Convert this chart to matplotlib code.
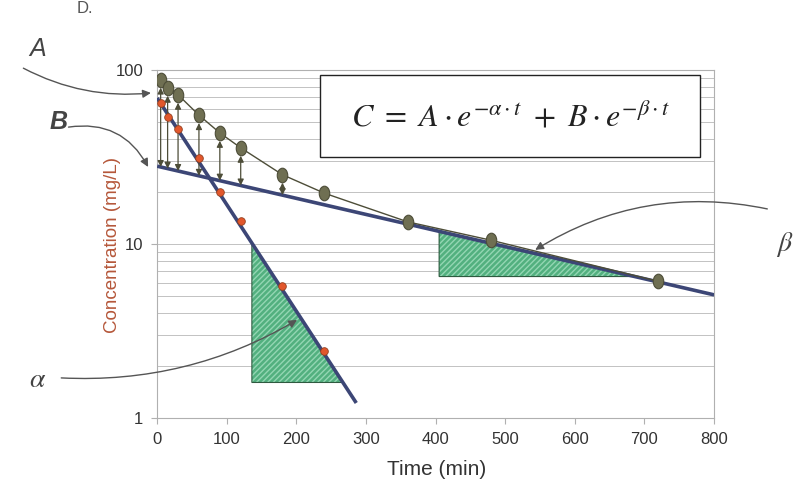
import numpy as np
import matplotlib
matplotlib.use("Agg")
import matplotlib.pyplot as plt
from matplotlib.markers import MarkerStyle
from matplotlib.transforms import Affine2D
from matplotlib.patches import Polygon, Rectangle

# Observed plasma concentrations (mg/L) vs time (min)
time_obs = [5, 15, 30, 60, 90, 120, 180, 240, 360, 480, 720]
conc_obs = [88, 79, 72, 55, 43.5, 35.7, 25, 19.6, 13.4, 10.5, 6.1]

# Residuals: observed minus the extrapolated terminal phase
time_res = [5, 15, 30, 60, 90, 120, 180, 240]
conc_res = [64.6, 53.7, 45.8, 31.2, 19.9, 13.6, 5.74, 2.43]

# End points of the two straight lines (log scale)
alpha_line_t = [0, 286]
alpha_line_c = [69, 1.22]
beta_line_t = [0, 800]
beta_line_c = [28, 5.1]

# Times at which the distribution-phase gap is marked
arrow_times = [5, 15, 30, 60, 90, 120, 180]

# Slope triangles: left edge time and floor concentration
alpha_tri_t, alpha_tri_floor = 136, 1.6
beta_tri_t, beta_tri_floor = 405, 6.5

x_ticks = [0, 100, 200, 300, 400, 500, 600, 700, 800]
y_ticks = [1, 10, 100]
y_tick_labels = ["1", "10", "100"]

plt.rcParams["font.family"] = ["Liberation Sans", "DejaVu Sans"]
plt.rcParams["mathtext.fontset"] = "stix"


def on_line(t, lt, lc):
    return 10 ** np.interp(t, lt, np.log10(lc))


def time_at(c, lt, lc):
    lg = np.log10(lc)
    return np.interp(np.log10(c), lg[::-1], np.asarray(lt)[::-1])


fig = plt.figure(figsize=(8.06, 4.87), dpi=100)
ax = fig.add_axes([0.195, 0.1417, 0.691, 0.7146])
ax.set_yscale("log")
ax.set_xlim(0, 800)
ax.set_ylim(1, 100)

grid_c = "#c2c2c2"
ax.yaxis.grid(True, which="both", color=grid_c, lw=0.7)
ax.set_axisbelow(True)
for s in ax.spines.values():
    s.set_color("#b0b0b0")
    s.set_linewidth(0.8)

ax.set_xticks(x_ticks)
ax.set_xticklabels([str(v) for v in x_ticks])
ax.set_yticks(y_ticks)
ax.set_yticklabels(y_tick_labels)
ax.tick_params(axis="both", which="major", length=4, color="#b0b0b0",
               labelsize=12, labelcolor="#333333", pad=6)
ax.tick_params(axis="y", which="minor", length=0)
ax.yaxis.set_minor_formatter(matplotlib.ticker.NullFormatter())

line_c = "#3c4676"
olive = "#6f6f52"
olive_dark = "#4d4d38"


def triangle(lt, lc, t_left, floor, z):
    top = on_line(t_left, lt, lc)
    t_right = time_at(floor, lt, lc)
    pts = [(t_left, top), (t_left, floor), (t_right, floor)]
    ax.add_patch(Polygon(pts, closed=True, facecolor="#52b07f",
                         edgecolor="none", zorder=z))
    ax.add_patch(Polygon(pts, closed=True, facecolor="none", hatch="//////",
                         edgecolor="#93d6b3", lw=0, zorder=z))
    ax.add_patch(Polygon(pts, closed=True, facecolor="none",
                         edgecolor="#2f5a40", lw=0.8, zorder=z))


# slope triangles
triangle(alpha_line_t, alpha_line_c, alpha_tri_t, alpha_tri_floor, 2)
triangle(beta_line_t, beta_line_c, beta_tri_t, beta_tri_floor, 2)

# fitted lines
ax.plot(alpha_line_t, alpha_line_c, color=line_c, lw=2.6, zorder=3,
        solid_capstyle="butt")
ax.plot(beta_line_t, beta_line_c, color=line_c, lw=2.6, zorder=3,
        solid_capstyle="butt")

# gap arrows between observed points and terminal line
obs_lookup = dict(zip(time_obs, conc_obs))
for t in arrow_times:
    ax.annotate("", xy=(t, obs_lookup[t] * 0.9),
                xytext=(t, on_line(t, beta_line_t, beta_line_c)),
                arrowprops=dict(arrowstyle="<|-|>", color=olive_dark, lw=0.9,
                                mutation_scale=9, shrinkA=0, shrinkB=0),
                zorder=4)

# observed curve
tear = MarkerStyle("o", transform=Affine2D().scale(0.72, 1.0))
ax.plot(time_obs, conc_obs, color=olive_dark, lw=1.0, zorder=5)
ax.plot(time_obs, conc_obs, ls="none", marker=tear, ms=10.5,
        mfc=olive, mec=olive_dark, mew=0.8, zorder=6)

# residual points
ax.plot(time_res, conc_res, ls="none", marker="o", ms=5.5,
        mfc="#e2572c", mec="#93401f", mew=0.6, zorder=7)

# equation box
ax.add_patch(Rectangle((0.293, 0.75), 0.682, 0.236, transform=ax.transAxes,
                       facecolor="white", edgecolor="#222222", lw=1.0,
                       zorder=8))
ax.text(0.634, 0.862,
        r"$C\ =\ A\cdot e^{-\alpha\cdot t}\ +\ B\cdot e^{-\beta\cdot t}$",
        transform=ax.transAxes, ha="center", va="center", fontsize=23,
        color="#222222", zorder=9)

# axis labels
fig.text(0.542, 0.035, "Time (min)", ha="center", va="center",
         fontsize=15, color="#333333")
fig.text(0.14, 0.497, "Concentration (mg/L)", rotation=90, ha="center",
         va="center", fontsize=13.5, color="#b5573a")

# parameter labels with pointer arrows
arrow_kw = dict(arrowstyle="-|>", color="#555555", lw=1.0, mutation_scale=12,
                shrinkA=0, shrinkB=0)
fig.text(0.047, 0.9, "A", fontsize=18, style="italic", ha="center",
         va="center", color="#444444")
ax.annotate("", xy=(-9, 73.8), xytext=(0.029, 0.86),
            textcoords="figure fraction", annotation_clip=False,
            arrowprops=dict(connectionstyle="arc3,rad=0.15", **arrow_kw))
fig.text(0.073, 0.749, "B", fontsize=18, style="italic", weight="bold",
         ha="center", va="center", color="#444444")
ax.annotate("", xy=(-13, 27.7), xytext=(0.085, 0.739),
            textcoords="figure fraction", annotation_clip=False,
            arrowprops=dict(connectionstyle="arc3,rad=-0.35", **arrow_kw))
fig.text(0.047, 0.22, r"$\alpha$", fontsize=20, ha="center", va="center",
         color="#444444")
ax.annotate("", xy=(201, 3.66), xytext=(0.076, 0.224),
            textcoords="figure fraction", annotation_clip=False,
            arrowprops=dict(connectionstyle="arc3,rad=0.15", **arrow_kw),
            zorder=9)
fig.text(0.974, 0.497, r"$\beta$", fontsize=20, ha="center", va="center",
         color="#444444")
ax.annotate("", xy=(543, 9.25), xytext=(0.952, 0.571),
            textcoords="figure fraction", annotation_clip=False,
            arrowprops=dict(connectionstyle="arc3,rad=0.2", **arrow_kw),
            zorder=9)

fig.text(0.105, 0.982, "D.", fontsize=12, ha="center", va="center",
         color="#555555")

fig.savefig("out.png", dpi=100, facecolor="white")
